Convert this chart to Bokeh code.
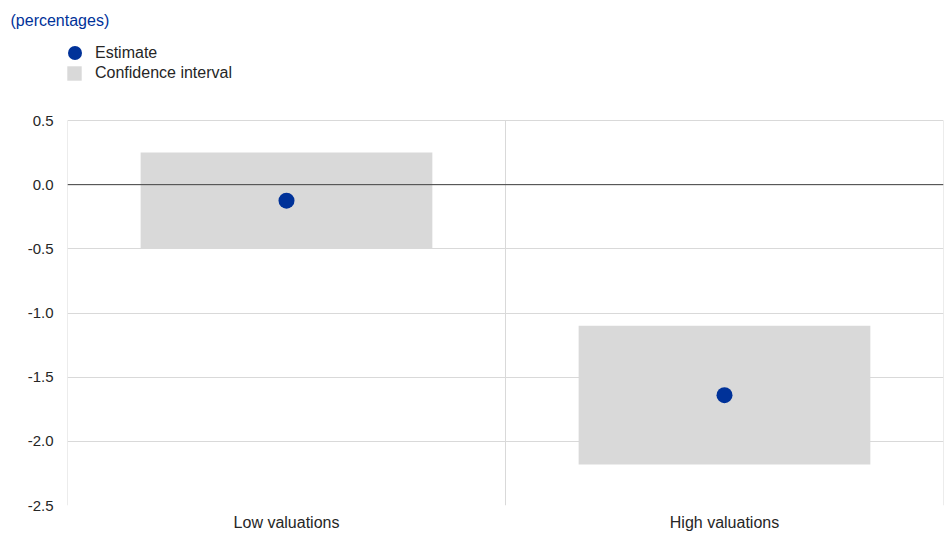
from bokeh.plotting import figure
from bokeh.models import (Range1d, FixedTicker, Span, Legend, LegendItem,
                          NumeralTickFormatter, ColumnDataSource)
from bokeh.embed import file_html
from bokeh.resources import INLINE

categories = ["Low valuations", "High valuations"]
estimate = [-0.125, -1.64]
ci_low = [-0.50, -2.18]
ci_high = [0.25, -1.10]
y_ticks = [-2.5, -2.0, -1.5, -1.0, -0.5, 0.0, 0.5]

FONT = "Liberation Sans"
BLUE = "#003299"
GREY = "#d9d9d9"
TEXT = "#262626"

Y_MIN, Y_MAX = y_ticks[0], y_ticks[-1]
# frame extends above the top tick to host the legend (90px above 385px plot)
Y_TOP = Y_MAX + (Y_MAX - Y_MIN) * 90 / 385

xpos = [i + 0.5 for i in range(len(categories))]
bounds = list(range(len(categories) + 1))

p = figure(width=944, height=536, output_backend="svg", toolbar_location=None,
           x_range=Range1d(0, len(categories)), y_range=Range1d(Y_MIN, Y_TOP),
           min_border_left=67, min_border_right=1, min_border_top=30,
           min_border_bottom=31)
p.outline_line_color = None
p.background_fill_color = "white"
p.border_fill_color = "white"

# vertical grid lines (category separators), limited to the plotting range
p.segment(x0=bounds, x1=bounds, y0=[Y_MIN] * len(bounds), y1=[Y_MAX] * len(bounds),
          line_color=GREY, line_width=1)

src = ColumnDataSource(dict(x=xpos, est=estimate, lo=ci_low, hi=ci_high))
bars = p.vbar(x="x", width=0.666, bottom="lo", top="hi", source=src,
              fill_color=GREY, line_color=None)
p.add_layout(Span(location=0, dimension="width", line_color="#404040", line_width=1))
dots = p.scatter(x="x", y="est", source=src, size=16, fill_color=BLUE,
                 line_color=None)

# axes
p.xaxis.ticker = FixedTicker(ticks=xpos)
p.xaxis.major_label_overrides = {x: c for x, c in zip(xpos, categories)}
p.yaxis.ticker = FixedTicker(ticks=y_ticks)
p.yaxis.formatter = NumeralTickFormatter(format="0.0")
for ax in (p.xaxis, p.yaxis):
    ax.axis_line_color = None
    ax.major_tick_line_color = None
    ax.minor_tick_line_color = None
    ax.major_tick_out = 0
    ax.major_tick_in = 0
    ax.minor_tick_out = 0
    ax.minor_tick_in = 0
    ax.major_label_text_font = FONT
    ax.major_label_text_color = TEXT
p.xaxis.major_label_text_font_size = "16px"
p.yaxis.major_label_text_font_size = "15px"
p.yaxis.major_label_standoff = 14
p.xaxis.major_label_standoff = 8

p.xgrid.grid_line_color = None
p.ygrid.grid_line_color = GREY

# title
p.title.text = "(percentages)"
p.title.text_font = FONT
p.title.text_font_size = "16px"
p.title.text_font_style = "normal"
p.title.text_color = BLUE
p.title.align = "left"
p.title.offset = -57
p.title.standoff = 4

common = dict(padding=0, margin=0, spacing=0, border_line_alpha=0,
              background_fill_alpha=0, label_text_font=FONT,
              label_text_font_size="16px", label_text_color=TEXT)
# legend marker glyph size is 0.4 x glyph box, area glyph is 0.8 x box
leg_est = Legend(items=[LegendItem(label="Estimate", renderers=[dots])],
                 location=(-10, 435), glyph_width=35, glyph_height=35,
                 label_standoff=3, label_height=35, **common)
leg_ci = Legend(items=[LegendItem(label="Confidence interval", renderers=[bars])],
                location=(-2, 423), glyph_width=18, glyph_height=18,
                label_standoff=12, label_height=18, **common)
p.add_layout(leg_est, "center")
p.add_layout(leg_ci, "center")

open("out.html", "w").write(file_html(p, INLINE))
